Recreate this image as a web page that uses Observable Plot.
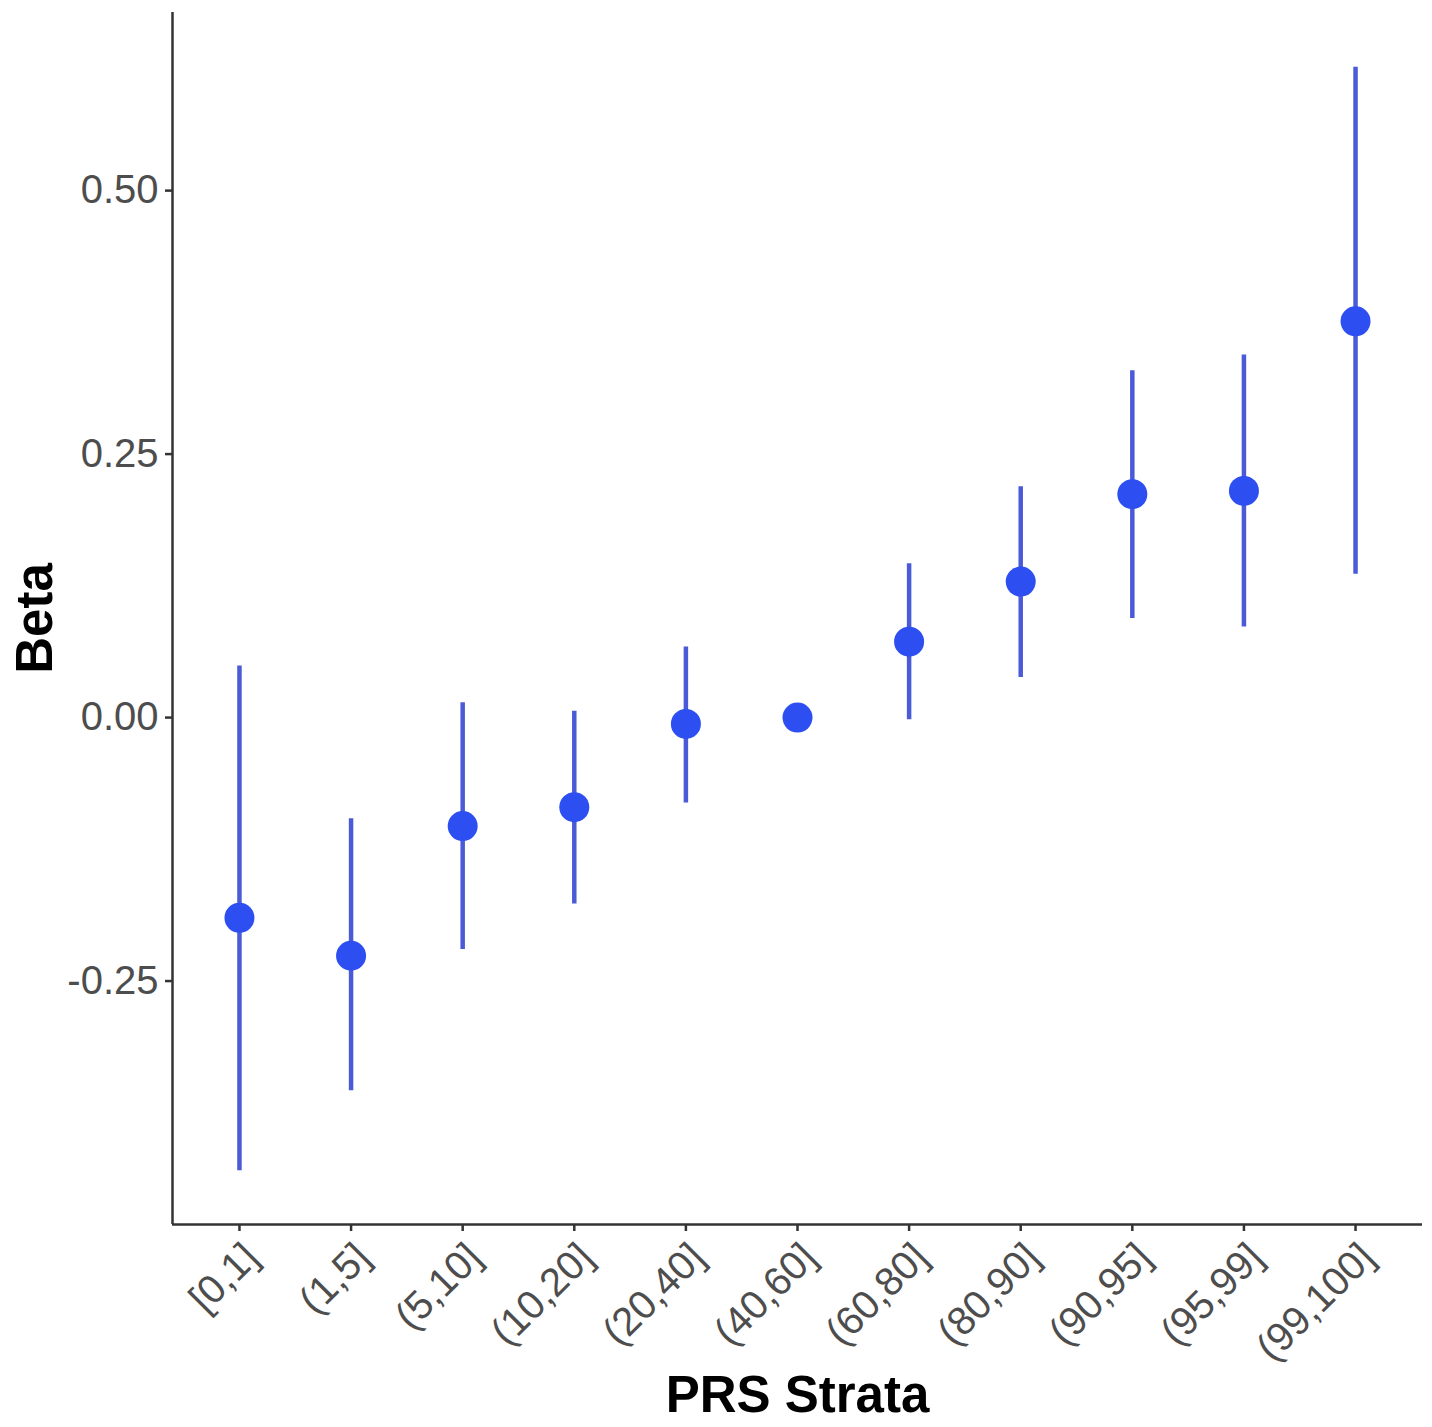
<!DOCTYPE html>
<html>
<head>
<meta charset="utf-8">
<script src="https://cdn.jsdelivr.net/npm/d3@7"></script>
<script src="https://cdn.jsdelivr.net/npm/@observablehq/plot@0.6"></script>
<style>
  html, body { margin: 0; padding: 0; background: #fff; }
  #chart svg { display: block; font-family: "Liberation Sans", Arial, sans-serif; }
</style>
</head>
<body>
<div id="chart"></div>
<script>
const strata = ["[0,1]", "(1,5]", "(5,10]", "(10,20]", "(20,40]", "(40,60]", "(60,80]", "(80,90]", "(90,95]", "(95,99]", "(99,100]"];
const beta  = [-0.190, -0.226, -0.103, -0.085, -0.006, 0.000, 0.072, 0.129, 0.212, 0.215, 0.376];
const lower = [-0.430, -0.354, -0.220, -0.177, -0.081, null, -0.002, 0.038, 0.094, 0.086, 0.136];
const upper = [0.049, -0.096, 0.014, 0.006, 0.067, null, 0.146, 0.219, 0.329, 0.344, 0.617];
const yTicks = [-0.25, 0, 0.25, 0.5];

const rows = strata.map((s, i) => ({i, s, beta: beta[i], lo: lower[i], hi: upper[i]}));
const bars = rows.filter(d => d.lo != null);

const yMin = -0.481, yMax = 0.669;
const xMin = -0.6, xMax = 10.6;

const axisColor = "#333333";
const labelColor = "#4d4d4d";

const chart = Plot.plot({
  width: 1432,
  height: 1427,
  marginLeft: 172,
  marginRight: 10,
  marginTop: 12,
  marginBottom: 203,
  x: {domain: [xMin, xMax]},
  y: {domain: [yMin, yMax]},
  marks: [
    Plot.axisY({ticks: yTicks, tickFormat: d => d.toFixed(2), tickSize: 7, tickPadding: 7,
      fontSize: 40, fill: labelColor, stroke: axisColor, strokeWidth: 2.5, label: null}),
    Plot.axisX({ticks: d3.range(strata.length), tickFormat: () => "", tickSize: 7,
      stroke: axisColor, strokeWidth: 2.5, label: null}),
    Plot.axisX({ticks: d3.range(strata.length), tickFormat: i => strata[i], tickSize: 0, tickPadding: 6,
      tickRotate: -45, fontSize: 40, fill: labelColor, label: null,
      dx: 12, dy: 20}),
    Plot.ruleX([xMin], {stroke: axisColor, strokeWidth: 2.5}),
    Plot.ruleY([yMin], {stroke: axisColor, strokeWidth: 2.5}),
    Plot.ruleX(bars, {x: "i", y1: "lo", y2: "hi", stroke: "#4b5bd8", strokeWidth: 4.5}),
    Plot.dot(rows, {x: "i", y: "beta", r: 15, fill: "#2d4ef0", stroke: null}),
    Plot.text(["Beta"], {frameAnchor: "left", textAnchor: "middle", dx: -137, rotate: -90, fontSize: 51, fontWeight: "bold", fill: "#000"}),
    Plot.text(["PRS Strata"], {frameAnchor: "bottom", dy: 187, fontSize: 51, fontWeight: "bold", fill: "#000"})
  ]
});
document.getElementById("chart").appendChild(chart);
</script>
</body>
</html>
